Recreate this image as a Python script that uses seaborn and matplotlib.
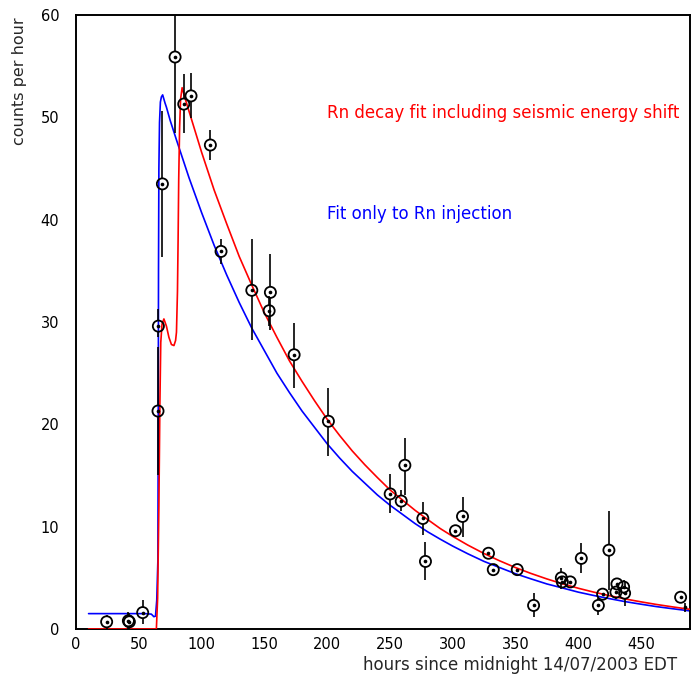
import numpy as np
import pandas as pd
import matplotlib
matplotlib.use("Agg")
import matplotlib.pyplot as plt
import seaborn as sns
from matplotlib.ticker import MultipleLocator

# ---------------- data ----------------
pt_x = [24.4, 41.7, 42.5, 53.1, 65.3, 65.6, 68.8, 78.9, 85.8, 91.6, 107.0, 115.5,
        140.0, 153.8, 154.8, 173.7, 201.0, 250.2, 259.0, 261.9, 276.2, 278.3,
        302.2, 307.8, 328.5, 332.3, 351.4, 364.4, 386.5, 387.3, 393.6, 402.4,
        416.0, 419.4, 424.4, 430.0, 430.8, 436.1, 436.9, 481.5]
pt_y = [0.7, 0.8, 0.7, 1.6, 21.3, 29.6, 43.5, 55.9, 51.3, 52.1, 47.3, 36.9,
        33.1, 31.1, 32.9, 26.8, 20.3, 13.2, 12.5, 16.0, 10.8, 6.6,
        9.6, 11.0, 7.4, 5.8, 5.8, 2.3, 5.0, 4.6, 4.6, 6.9,
        2.3, 3.4, 7.7, 3.6, 4.4, 4.1, 3.5, 3.1]
pt_lo = [0.0, 0.0, 0.0, 0.5, 15.0, 28.5, 36.4, 48.5, 48.5, 49.9, 45.8, 35.7,
         28.2, 29.6, 29.2, 23.6, 16.9, 11.3, 11.5, 13.1, 9.2, 4.8,
         9.1, 9.0, 6.8, 5.3, 5.4, 1.2, 3.9, 4.0, 4.2, 5.5,
         1.4, 2.8, 3.8, 2.9, 3.9, 3.4, 2.2, 2.9]
pt_hi = [1.4, 1.7, 1.6, 2.8, 27.6, 31.3, 50.6, 63.0, 54.2, 54.3, 48.8, 38.1,
         38.1, 32.5, 36.6, 29.9, 23.6, 15.1, 13.6, 18.7, 12.4, 8.5,
         10.1, 12.9, 8.0, 6.3, 6.2, 3.5, 6.0, 5.0, 5.0, 8.4,
         3.0, 4.0, 11.5, 4.1, 4.9, 4.8, 4.7, 3.4]

# last tiny point (no circle)
small_x = [485.3]
small_y = [2.15]
small_lo = [1.7]
small_hi = [2.5]

# fit: Rn decay including seismic energy shift (red)
red_x = [10, 64, 65, 66, 66.8, 67.5, 68.5, 70, 72, 74, 76, 78, 79.3, 80, 80.8, 81.3,
         81.8, 82.5, 83.3, 84.5, 87, 90, 95, 100, 110, 120, 130, 140, 150, 160, 170,
         180, 190, 200, 210, 220, 230, 240, 250, 260, 270, 280, 290, 300, 312, 325,
         337, 350, 362, 375, 387, 400, 412, 425, 437, 450, 462, 475, 490]
red_y = [0, 0, 3, 12, 22, 28, 29.8, 30.3, 29.6, 28.5, 27.8, 27.7, 28.2, 29, 33, 38,
         44, 49, 51.8, 52.9, 51.8, 50.6, 48.6, 46.6, 42.9, 39.6, 36.4, 33.6, 30.9, 28.5, 26.2,
         24.2, 22.3, 20.5, 18.9, 17.4, 16.05, 14.8, 13.6, 12.6, 11.6, 10.7, 9.82, 9.05, 8.2, 7.37,
         6.68, 6.0, 5.44, 4.89, 4.43, 3.98, 3.61, 3.25, 2.94, 2.65, 2.40, 2.16, 1.9]

# fit only to Rn injection (blue)
blue_x = [10, 55, 60, 62, 63.3, 64.3, 65.2, 65.5, 65.7, 66, 66.5, 67.2, 68, 69, 70.9,
          72, 75, 80, 90, 100, 110, 120, 130, 140, 150, 160, 170, 180, 190, 200, 210,
          220, 230, 240, 250, 260, 270, 280, 290, 300, 312, 325, 337, 350, 362, 375,
          387, 400, 412, 425, 437, 450, 462, 475, 490]
blue_y = [1.5, 1.5, 1.45, 1.2, 1.25, 2.8, 6.7, 20, 35, 45, 49.5, 51.5, 52.0, 52.2, 51.4,
          51.0, 49.7, 47.8, 44.1, 40.7, 37.5, 34.6, 31.9, 29.4, 27.2, 25.0, 23.1, 21.3, 19.7, 18.1, 16.7,
          15.4, 14.25, 13.1, 12.1, 11.2, 10.3, 9.5, 8.78, 8.1, 7.35, 6.6, 6.02, 5.4, 4.91, 4.4,
          4.02, 3.6, 3.28, 2.96, 2.68, 2.42, 2.19, 1.98, 1.75]

x_ticks = [0, 50, 100, 150, 200, 250, 300, 350, 400, 450]
y_ticks = [0, 10, 20, 30, 40, 50, 60]

red_label = "Rn decay fit including seismic energy shift"
blue_label = "Fit only to Rn injection"
x_title = "hours since midnight 14/07/2003 EDT"
y_title = "counts per hour"

# ---------------- plotting ----------------
sns.set_theme(style="white")
plt.rcParams["font.family"] = ["DejaVu Sans"]

W, H = 691, 685
fig = plt.figure(figsize=(W / 100, H / 100), dpi=100)
ax = fig.add_axes([0.110, 0.0818, 0.8886, 0.8962])

pts = pd.DataFrame({"x": pt_x, "y": pt_y, "lo": pt_lo, "hi": pt_hi})
red = pd.DataFrame({"x": red_x, "y": red_y})
blue = pd.DataFrame({"x": blue_x, "y": blue_y})

sns.lineplot(data=blue, x="x", y="y", sort=False, estimator=None, color="#0000ff",
             linewidth=1.2, ax=ax, zorder=2)
sns.lineplot(data=red, x="x", y="y", sort=False, estimator=None, color="#ff0000",
             linewidth=1.2, ax=ax, zorder=3)

# error bars, broken around the circle marker
gap = 0.55
for x, y, lo, hi in zip(pt_x, pt_y, pt_lo, pt_hi):
    if y - gap > lo:
        ax.vlines(x, lo, y - gap, color="black", linewidth=1.2, zorder=4)
    if hi > y + gap:
        ax.vlines(x, y + gap, hi, color="black", linewidth=1.2, zorder=4)
for x, y, lo, hi in zip(small_x, small_y, small_lo, small_hi):
    ax.vlines(x, lo, hi, color="black", linewidth=1.2, zorder=4)

sns.scatterplot(data=pts, x="x", y="y", marker="o", s=64, facecolor="none",
                edgecolor="black", linewidth=1.3, ax=ax, zorder=5)
sns.scatterplot(x=pt_x + small_x, y=pt_y + small_y, marker="o", s=7, color="black",
                linewidth=0, ax=ax, zorder=6)

ax.set_xlim(0, 489)
ax.set_ylim(0, 60)
ax.set_xticks(x_ticks)
ax.set_yticks(y_ticks)
ax.xaxis.set_minor_locator(MultipleLocator(10))
ax.yaxis.set_minor_locator(MultipleLocator(2))
ax.tick_params(axis="both", which="major", direction="in", length=9, width=1.2,
               labelsize=10.5, colors="black", top=False, right=False)
ax.tick_params(axis="both", which="minor", direction="in", length=4.5, width=1.0,
               top=False, right=False)
ax.tick_params(axis="x", which="major", pad=6)
ax.tick_params(axis="y", which="major", pad=12)
for sp in ax.spines.values():
    sp.set_color("black")
    sp.set_linewidth(1.4)

ax.set_xlabel("")
ax.set_ylabel("")
fig.text(677 / W, 1 - 665 / H, x_title, fontsize=12, ha="right", va="center")
fig.text(20 / W, 1 - 17 / H, y_title, fontsize=11.5, ha="center", va="top",
         rotation=90)

ax.text(200, 50.4, red_label, color="#ff0000", fontsize=12, va="center", ha="left")
ax.text(200, 40.6, blue_label, color="#0000ff", fontsize=12, va="center", ha="left")

fig.savefig("out.png", dpi=100, facecolor="white")
